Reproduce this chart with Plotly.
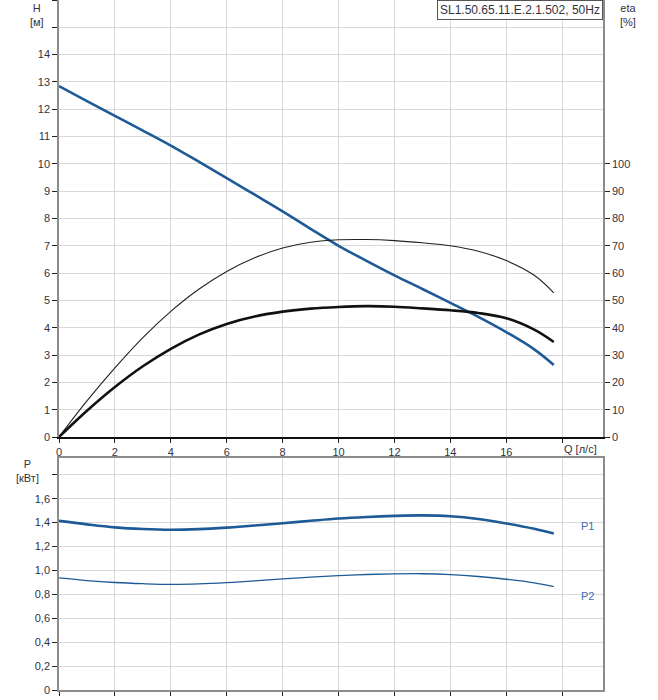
import plotly.graph_objects as go

# pump curve readings, Q in l/s
q = [0, 1, 2, 3, 4, 5, 6, 7, 8, 9, 10, 11, 12, 13, 14, 15, 16, 17, 17.7]
head = [12.85, 12.3, 11.76, 11.22, 10.67, 10.08, 9.48, 8.87, 8.26, 7.62,
        7.0, 6.45, 5.92, 5.42, 4.91, 4.40, 3.84, 3.21, 2.64]
eta_pump = [0, 13.2, 25.3, 36.4, 46.0, 54.1, 60.6, 65.6, 69.2, 71.3,
            72.2, 72.3, 71.9, 71.1, 70.0, 68.0, 64.6, 59.2, 52.8]
eta_total = [0, 9.6, 18.3, 25.9, 32.3, 37.5, 41.4, 44.1, 45.9, 47.0,
             47.6, 47.9, 47.7, 47.1, 46.4, 45.4, 43.5, 39.3, 34.8]
p1 = [1.414, 1.385, 1.360, 1.346, 1.340, 1.345, 1.358, 1.375, 1.395, 1.415,
      1.434, 1.447, 1.456, 1.460, 1.453, 1.430, 1.393, 1.348, 1.308]
p2 = [0.937, 0.915, 0.899, 0.889, 0.883, 0.887, 0.898, 0.913, 0.929, 0.944,
      0.957, 0.966, 0.971, 0.972, 0.965, 0.949, 0.926, 0.896, 0.865]

q_ticks = [0, 2, 4, 6, 8, 10, 12, 14, 16, 18]
q_labels = ["0", "2", "4", "6", "8", "10", "12", "14", "16", ""]
h_ticks = list(range(0, 17))
h_labels = [str(v) if v <= 14 else "" for v in h_ticks]
eta_ticks = list(range(0, 101, 10))
p_ticks = [0, 0.2, 0.4, 0.6, 0.8, 1.0, 1.2, 1.4, 1.6, 1.8]
p_labels = ["0", "0,2", "0,4", "0,6", "0,8", "1,0", "1,2", "1,4", "1,6", ""]

title = "SL1.50.65.11.E.2.1.502, 50Hz"

BLUE = "#1d5a96"
TXT = "#33333f"
GRID = "#d9d9d9"
AXIS = "#8c8c8c"
FONT = "Liberation Sans"

fig = go.Figure()
fig.add_trace(go.Scatter(x=q, y=eta_pump, yaxis="y3", mode="lines",
                         line=dict(color="#222222", width=1.1, shape="spline")))
fig.add_trace(go.Scatter(x=q, y=eta_total, yaxis="y3", mode="lines",
                         line=dict(color="#111111", width=2.6, shape="spline")))
fig.add_trace(go.Scatter(x=q, y=head, mode="lines",
                         line=dict(color=BLUE, width=2.6, shape="spline")))
fig.add_trace(go.Scatter(x=q, y=p1, xaxis="x2", yaxis="y2", mode="lines",
                         line=dict(color=BLUE, width=2.6, shape="spline")))
fig.add_trace(go.Scatter(x=q, y=p2, xaxis="x2", yaxis="y2", mode="lines",
                         line=dict(color=BLUE, width=1.3, shape="spline")))

xrange_ = [0, 19.46]
top_dom = [253 / 690, 1]
bot_dom = [0, 232 / 690]

common_x = dict(range=xrange_, tickvals=q_ticks, showgrid=True, gridcolor=GRID,
                gridwidth=1, zeroline=False, ticks="outside", ticklen=4,
                tickcolor="#222222", tickfont=dict(family=FONT, size=11, color=TXT))

fig.update_layout(
    width=658, height=700,
    margin=dict(l=59, r=55, t=0, b=10),
    paper_bgcolor="white", plot_bgcolor="white",
    showlegend=False,
    font=dict(family=FONT, size=11, color=TXT),
    xaxis=dict(common_x, domain=[0, 1], anchor="y", ticktext=q_labels,
               showline=True, linecolor="#111111", linewidth=1.5),
    yaxis=dict(domain=top_dom, range=[0, 16], tickvals=h_ticks, ticktext=h_labels,
               showgrid=True, gridcolor=GRID, zeroline=False,
               showline=True, linecolor=AXIS, linewidth=1.5,
               ticks="outside", ticklen=5, tickcolor="#222222",
               tickfont=dict(family=FONT, size=11, color=TXT)),
    yaxis3=dict(overlaying="y", side="right", anchor="x", range=[0, 160],
                tickvals=eta_ticks, showgrid=False, zeroline=False,
                showline=True, linecolor=AXIS, linewidth=1.5,
                ticks="outside", ticklen=5, tickcolor="#222222",
                tickfont=dict(family=FONT, size=11, color=TXT)),
    xaxis2=dict(common_x, domain=[0, 1], anchor="y2", showticklabels=False,
                showline=True, linecolor=AXIS, linewidth=1.5, mirror=True),
    yaxis2=dict(domain=bot_dom, anchor="x2", range=[0, 1.94], tickvals=p_ticks,
                ticktext=p_labels, showgrid=True, gridcolor=GRID, zeroline=False,
                showline=True, linecolor=AXIS, linewidth=1.5, mirror=True,
                ticks="outside", ticklen=5, tickcolor="#222222",
                tickfont=dict(family=FONT, size=11, color=TXT)),
)

ann = [
    dict(text=title, xref="paper", yref="paper", x=1, y=1, xanchor="right",
         yanchor="top", showarrow=False, bgcolor="white", bordercolor="#555555",
         borderwidth=1, borderpad=2, font=dict(family=FONT, size=12, color=TXT)),
    dict(text="H<br>[м]", xref="paper", yref="paper", x=-0.04, y=1.0,
         xanchor="center", yanchor="top", showarrow=False),
    dict(text="eta<br>[%]", xref="paper", yref="paper", x=1.046, y=1.0,
         xanchor="center", yanchor="top", showarrow=False),
    dict(text="P<br>[кВт]", xref="paper", yref="paper", x=-0.057, y=bot_dom[1] + 0.003,
         xanchor="center", yanchor="top", showarrow=False),
    dict(text="Q [л/с]", xref="x", yref="paper", x=18.65, y=top_dom[0],
         xanchor="center", yanchor="top", yshift=-4, showarrow=False),
    dict(text="P1", xref="x2", yref="y2", x=18.9, y=1.37, xanchor="center",
         showarrow=False, font=dict(family=FONT, size=11, color="#3b6eb0")),
    dict(text="P2", xref="x2", yref="y2", x=18.9, y=0.79, xanchor="center",
         showarrow=False, font=dict(family=FONT, size=11, color="#3b6eb0")),
]
fig.update_layout(annotations=ann)

# the page's default body margin would push the chart 8px right and down
fig.write_html("out.html", config={"displayModeBar": False},
               post_script="document.body.style.margin='0px';")
